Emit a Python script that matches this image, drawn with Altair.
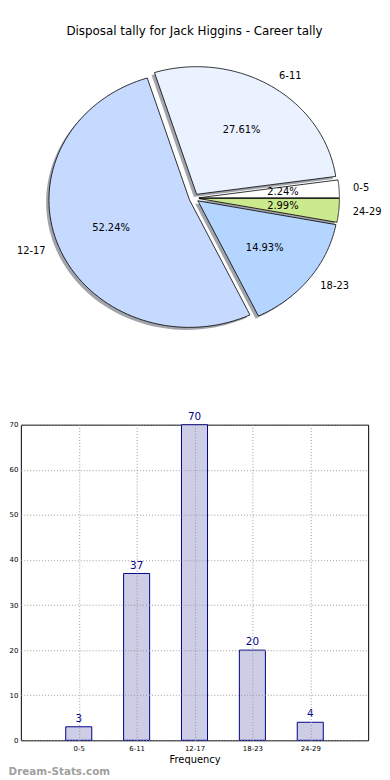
import json
import altair as alt
import pandas as pd

# ---------------- data ----------------
categories = ["0-5", "6-11", "12-17", "18-23", "24-29"]
counts = [3, 37, 70, 20, 4]
slice_colors = ["#ffffff", "#eaf1ff", "#c6d9ff", "#b4d5ff", "#cbe98d"]
title_text = "Disposal tally for Jack Higgins - Career tally"
x_title = "Frequency"
watermark = "Dream-Stats.com"

df = pd.DataFrame({"cat": categories, "val": counts, "idx": list(range(len(categories)))})

FONT = "DejaVu Sans"
EXPLODE = 0.035
SHADOW = 0.02
N = 80

# pie panel geometry (pixels inside the pie panel)
PIE_W, PIE_H = 351, 370
CX, CY = 175, 188
RX, RY = 142, 129

BAR_W, BAR_H = 351, 319

xs = alt.Scale(domain=[-1, 1], range=[CX - RX, CX + RX], nice=False, zero=False)
ys = alt.Scale(domain=[-1, 1], range=[CY + RY, CY - RY], nice=False, zero=False)

pie_base = (
    alt.Chart(df)
    .transform_joinaggregate(total="sum(val)")
    .transform_window(cum="sum(val)", sort=[alt.SortField("idx", order="ascending")], frame=[None, 0])
    .transform_calculate(a0="2*PI*(datum.cum - datum.val)/datum.total")
    .transform_calculate(a1="2*PI*datum.cum/datum.total")
    .transform_calculate(am="(datum.a0 + datum.a1)/2")
    .transform_calculate(pct="format(datum.val/datum.total, '.2%')")
)

poly = (
    pie_base.transform_calculate(seq=f"sequence(0, {N + 3})")
    .transform_flatten(["seq"])
    .transform_calculate(t=f"clamp((datum.seq - 1)/{N}, 0, 1)")
    .transform_calculate(ang="datum.a0 + (datum.a1 - datum.a0)*datum.t")
    .transform_calculate(isc=f"datum.seq == 0 || datum.seq == {N + 2}")
    .transform_calculate(px=f"{EXPLODE}*cos(datum.am) + (datum.isc ? 0 : cos(datum.ang))")
    .transform_calculate(py=f"{EXPLODE}*sin(datum.am) + (datum.isc ? 0 : sin(datum.ang))")
    .transform_calculate(sx=f"datum.px - {SHADOW}")
    .transform_calculate(sy=f"datum.py - {SHADOW}")
)

shadow = poly.mark_line(filled=True, fill="#444a55", fillOpacity=0.5, strokeWidth=0, strokeOpacity=0).encode(
    x=alt.X("sx:Q", scale=xs, axis=None),
    y=alt.Y("sy:Q", scale=ys, axis=None),
    order=alt.Order("seq:Q"),
    detail="cat:N",
)

slices = poly.mark_line(filled=True, stroke="black", strokeWidth=0.8, strokeJoin="round").encode(
    x=alt.X("px:Q", scale=xs, axis=None),
    y=alt.Y("py:Q", scale=ys, axis=None),
    order=alt.Order("seq:Q"),
    color=alt.Color("cat:N", scale=alt.Scale(domain=categories, range=slice_colors), legend=None),
    detail="cat:N",
)

labels = pie_base.transform_calculate(
    lx=f"({EXPLODE} + 1.1)*cos(datum.am)"
).transform_calculate(
    ly=f"({EXPLODE} + 1.1)*sin(datum.am)"
).transform_calculate(
    qx=f"({EXPLODE} + 0.6)*cos(datum.am)"
).transform_calculate(
    qy=f"({EXPLODE} + 0.6)*sin(datum.am)"
)

lab_right = labels.transform_filter("cos(datum.am) > 0").mark_text(
    align="left", baseline="middle", fontSize=10, font=FONT, color="black"
).encode(x=alt.X("lx:Q", scale=xs, axis=None), y=alt.Y("ly:Q", scale=ys, axis=None), text="cat:N")

lab_left = labels.transform_filter("cos(datum.am) <= 0").mark_text(
    align="right", baseline="middle", fontSize=10, font=FONT, color="black"
).encode(x=alt.X("lx:Q", scale=xs, axis=None), y=alt.Y("ly:Q", scale=ys, axis=None), text="cat:N")

pct_lab = labels.mark_text(
    align="center", baseline="middle", fontSize=10, font=FONT, color="black"
).encode(x=alt.X("qx:Q", scale=xs, axis=None), y=alt.Y("qy:Q", scale=ys, axis=None), text="pct:N")

pie = alt.layer(shadow, slices, lab_right, lab_left, pct_lab).properties(
    width=PIE_W,
    height=PIE_H,
    view=alt.ViewBackground(strokeOpacity=0),
    title=alt.TitleParams(
        title_text, fontSize=12, font=FONT, fontWeight="normal", anchor="middle",
        offset=0, dy=26, color="black",
    ),
)

# ---------------- bar chart ----------------
label_expr = f"{json.dumps(categories)}[datum.value]"

bx = alt.Scale(domain=[-1, 5], nice=False, zero=False)
by = alt.Scale(domain=[0, 70], nice=False)

bar_base = alt.Chart(df).transform_calculate(x0="datum.idx - 0.225", x1="datum.idx + 0.225")

bars = bar_base.mark_bar(fill="#cdcde6", stroke="#00008b", strokeWidth=1).encode(
    x=alt.X(
        "x0:Q", scale=bx,
        axis=alt.Axis(
            values=list(range(len(categories))), labelExpr=label_expr, title=x_title,
            labelFontSize=7, labelFont=FONT, labelColor="black", labelPadding=4,
            titleFontSize=10, titleFont=FONT, titleFontWeight="normal", titleColor="black", titlePadding=3,
            ticks=False, domain=False, grid=True, gridDash=[1, 2], gridColor="#9a9a9a", gridWidth=1,
            zindex=1,
        ),
    ),
    x2="x1:Q",
    y=alt.Y(
        "val:Q", scale=by,
        axis=alt.Axis(
            values=list(range(0, 71, 10)), title=None,
            labelFontSize=7, labelFont=FONT, labelColor="black", labelPadding=3,
            ticks=False, domain=False, grid=True, gridDash=[1, 2], gridColor="#9a9a9a", gridWidth=1,
            zindex=1,
        ),
    ),
    y2=alt.datum(0),
)

bar_text = bar_base.mark_text(
    baseline="bottom", dy=-3, fontSize=10.5, font=FONT, color="#00008b"
).encode(
    x=alt.X("idx:Q", scale=bx),
    y=alt.Y("val:Q", scale=by),
    text="val:Q",
)

bar = alt.layer(bars, bar_text).properties(
    width=BAR_W,
    height=BAR_H,
    view=alt.ViewBackground(stroke="black", strokeWidth=1),
)

chart = alt.vconcat(pie, bar, spacing=33).properties(
    padding=0,
    background="white",
    title=alt.TitleParams(
        watermark, orient="bottom", anchor="start", frame="bounds", fontSize=10.5,
        font=FONT, fontWeight="bold", color="#a0a0a0", offset=3,
    ),
)

chart.save("out.html", embed_options={"renderer": "svg", "actions": False})
